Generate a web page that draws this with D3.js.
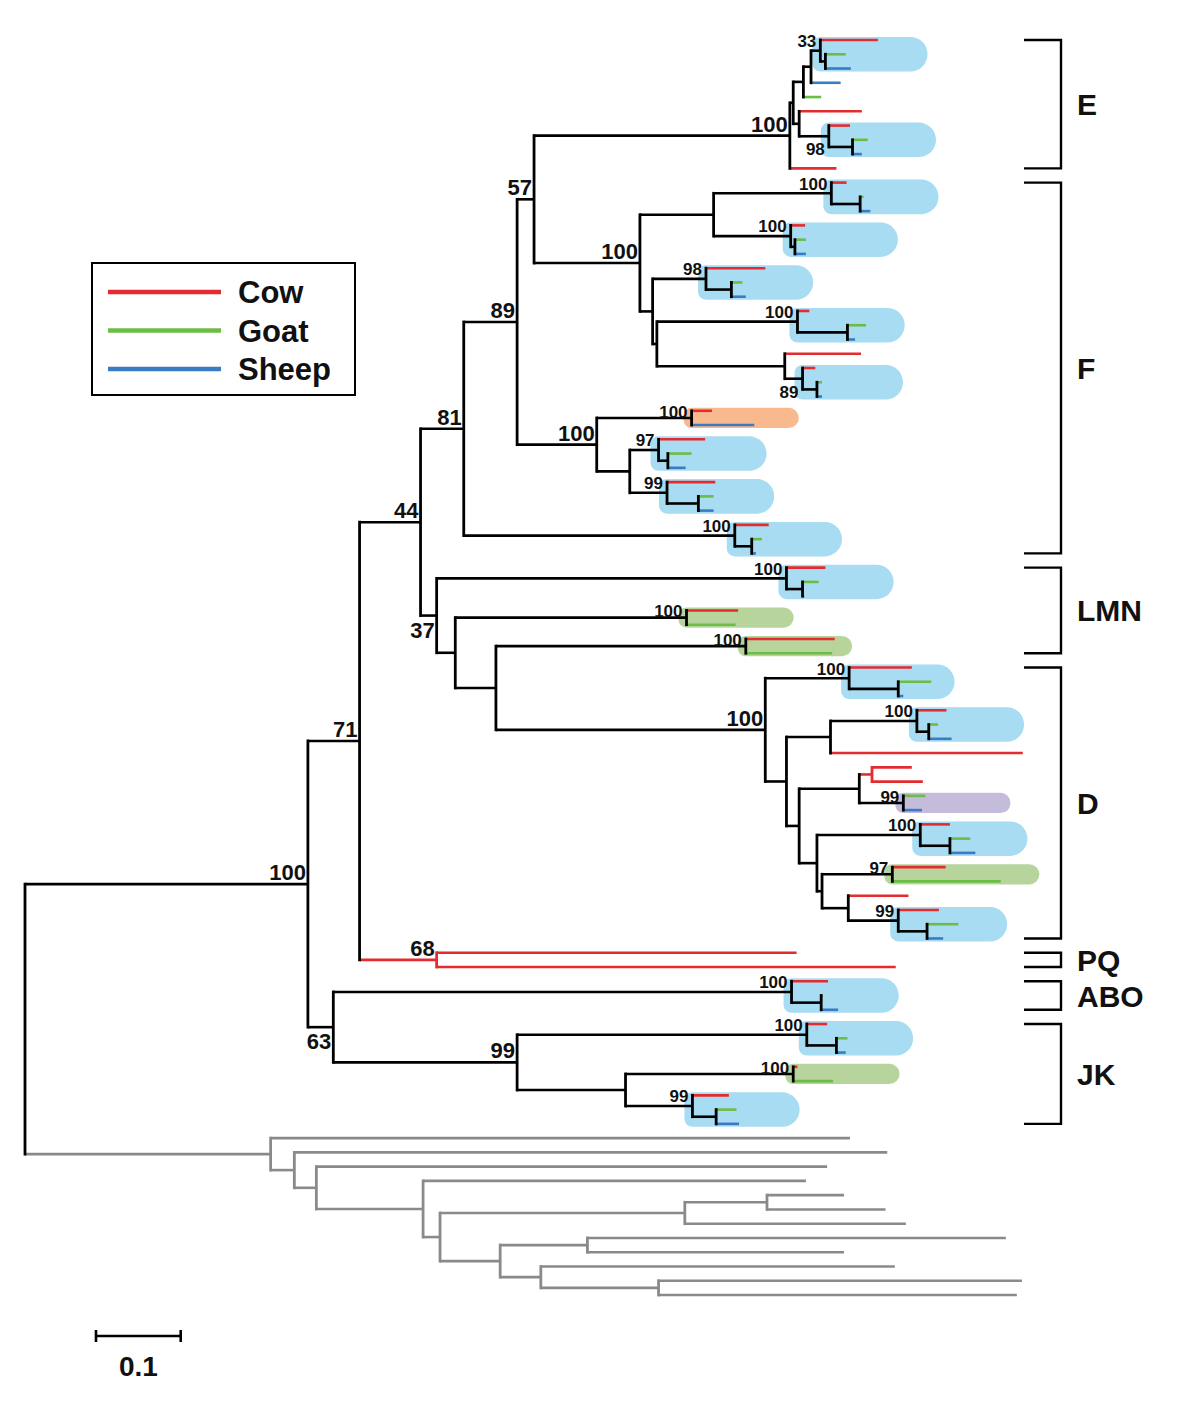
<!DOCTYPE html>
<html><head><meta charset="utf-8">
<script src="https://cdn.jsdelivr.net/npm/d3@7"></script>
<style>body{margin:0;background:#fff}svg{display:block}</style>
</head><body>
<script>
// ---------------- DATA ----------------
// Tree pieces in Newick (branch lengths in substitutions/site; leaf names = species: C cow, G goat, S sheep, O outgroup)
const newickE = "(((((C:0.068,(G:0.024,S:0.030):0.006)E33:0.011,S:0.035):0.009,G:0.021):0.012,(C:0.074,(C:0.025,(G:0.018,S:0.011):0.028)E98:0.035):0.007):0.004,C:0.055)E100:0.302";
const newickF1 = "(C:0.018,(G:0.004,S:0.012):0.034)F1:0.139";
const newickF2 = "(C:0.017,(G:0.013,S:0.013):0.005)F2:0.091";
const newickF3 = "(C:0.070,(G:0.013,S:0.017):0.030)F3:0.063";
const newickF4 = "(C:0.014,(G:0.022,S:0.009):0.059)F4:0.166";
const newickF5 = "(C:0.090,(C:0.015,(G:0.006,S:0.006):0.017)F5:0.021):0.151";
const newickF6 = "(C:0.024,S:0.074)F6:0.112";
const newickF7 = "(C:0.055,(G:0.028,S:0.021):0.011)F7:0.034";
const newickF8 = "(C:0.057,(G:0.018,S:0.018):0.037)F8:0.044";
const newickF10 = "(C:0.040,(G:0.012,S:0.005):0.020)F10:0.320";
const newickL1 = "(C:0.046,(G:0.019,S:0.002):0.019)L1:0.413";
const newickL2 = "(C:0.061,G:0.058)L2:0.273";
const newickL3 = "(C:0.105,G:0.102)L3:0.295";
const newickD1 = "(C:0.074,(G:0.039,S:0.006):0.058)D1:0.099";
const newickD2 = "(C:0.035,(G:0.011,S:0.027):0.014)D2:0.102";
const newickD3 = "((C:0.047,C:0.060):0.015,(G:0.026,S:0.022)D3:0.052):0.071";
const newickD4 = "(C:0.035,(G:0.024,S:0.030):0.035)D4:0.122";
const newickD5 = "(C:0.063,G:0.128)D5:0.083";
const newickD6 = "(C:0.048,(G:0.037,S:0.019):0.034)D6:0.059";
const newickPQ = "(C:0.425,C:0.542)PQ:0.091";
const newickABO = "(C:0.043,(G:0.002,S:0.020):0.035)A1:0.541";
const newickJ1 = "(C:0.024,(G:0.013,S:0.011):0.035)J1:0.342";
const newickJ2 = "(C:0.005,G:0.047)J2:0.198";
const newickJ3 = "(C:0.043,(G:0.024,S:0.027):0.028)J3:0.079";
const newickOut = "(O:0.684,(O:0.700,(O:0.603,(O:0.452,(((O:0.091,O:0.140):0.097,O:0.261):0.289,((O:0.494,O:0.303):0.103,(O:0.418,(O:0.429,O:0.423):0.139):0.048):0.071):0.020):0.126):0.026):0.028):0.290";

// bootstrap support [node, value]
const support = [["ING",100],["N71",71],["N44",44],["N81",81],["N89",89],["N57",57],["E100",100],["E33",33],["E98",98],
  ["F100",100],["F1",100],["F2",100],["F3",98],["F4",100],["F5",89],["F9",100],["F6",100],["F7",97],["F8",99],["F10",100],
  ["N37",37],["L1",100],["L2",100],["L3",100],["D100",100],["D1",100],["D2",100],["D3",99],["D4",100],["D5",97],["D6",99],
  ["PQ",68],["N63",63],["A1",100],["JK",99],["J1",100],["J2",100],["J3",99]];
const supportBelow = ["N37","N63","E98","F5"];
// highlighted clusters [node, colour key, extent in tree units]
const pills = [["E33","blue",0.136],["E98","blue",0.136],["F1","blue",0.136],["F2","blue",0.136],["F3","blue",0.136],
  ["F4","blue",0.136],["F5","blue",0.128],["F6","orange",0.136],["F7","blue",0.137],["F8","blue",0.136],["F10","blue",0.136],
  ["L1","blue",0.136],["L2","green",0.136],["L3","green",0.135],["D1","blue",0.134],["D2","blue",0.136],["D3","purple",0.136],
  ["D4","blue",0.136],["D5","green",0.183],["D6","blue",0.138],["A1","blue",0.136],["J1","blue",0.135],["J2","green",0.135],["J3","blue",0.136]];
// clade groups (leaf index ranges, in leaf order)
const groupNames = ["E","F","LMN","D","PQ","ABO","JK"];
const groupFirst = [0,10,37,44,64,66,69];
const groupLast  = [9,36,43,63,65,68,76];
const legendNames = ["Cow","Goat","Sheep"];
const legendKeys = ["C","G","S"];
const scaleBarValue = 0.1;

// ---------------- ASSEMBLY ----------------
const newickD = `(${newickD1},((${newickD2},C:0.227):0.052,(${newickD3},(${newickD4},(${newickD5},(C:0.071,${newickD6}):0.031):0.006):0.021):0.015):0.025)D100:0.318`;
const newickF = `((${newickF1},${newickF2}):0.087,(${newickF3},(${newickF4},${newickF5}):0.005):0.015)F100:0.125`;
const newickF9 = `(${newickF6},(${newickF7},${newickF8}):0.039)F9:0.094`;
const newickN81 = `(((${newickE},${newickF})N57:0.020,${newickF9})N89:0.063,${newickF10})N81:0.051`;
const newickN37 = `(${newickL1},(${newickL2},(${newickL3},${newickD}):0.048):0.022)N37:0.019`;
const newickN63 = `(${newickABO},(${newickJ1},(${newickJ2},${newickJ3}):0.128)JK:0.217)N63:0.030`;
const newickAll = `((((${newickN81},${newickN37})N44:0.072,${newickPQ})N71:0.061,${newickN63})ING:0.334,${newickOut});`;

function parseNewick(s){
  const anc=[]; let tree={}; const tok=s.split(/\s*(;|\(|\)|,|:)\s*/);
  for(let i=0;i<tok.length;i++){const t=tok[i];
    switch(t){
      case "(": {const c={}; tree.children=[c]; anc.push(tree); tree=c; break;}
      case ",": {const c={}; anc[anc.length-1].children.push(c); tree=c; break;}
      case ")": tree=anc.pop(); break;
      case ":": case ";": case "": break;
      default: {const p=tok[i-1]; if(p===")"||p==="("||p===",") tree.name=t; else if(p===":") tree.length=parseFloat(t);}
    }}
  return tree;
}

const COL = {C:"#e42b2f", G:"#6cbd45", S:"#3a7cc3", O:"#8a8a8a", X:"#000"};
const PILL = {blue:"#a7dcf2", orange:"#f8b98f", green:"#b8d49d", purple:"#c4bcda"};
const FONT = "'Liberation Sans', Arial, Helvetica, sans-serif";

const root = d3.hierarchy(parseNewick(newickAll), d=>d.children);
root.eachBefore(d=>{ d.dist = (d.parent? d.parent.dist:0) + (d.parent ? (d.data.length||0) : 0); });
const leaves = root.leaves();
const nLeaves = leaves.length;

const x = d3.scaleLinear().domain([0,1]).range([25, 872]);
const y = d3.scaleLinear().domain([0, nLeaves-1]).range([40, 1295]);

leaves.forEach((l,i)=>{ l.idx=i; l.py=y(i); });
root.eachAfter(d=>{
  d.px = x(d.dist);
  if(d.children){ d.py=(d.children[0].py + d.children[d.children.length-1].py)/2;
    const sp = new Set(d.leaves().map(l=>l.data.name));
    d.col = sp.size===1 ? [...sp][0] : "X"; }
  else d.col = d.data.name;
});
const byName = {}; root.each(d=>{ if(d.children && d.data.name) byName[d.data.name]=d; });

const svg = d3.select("body").append("svg").attr("width",1200).attr("height",1407)
  .style("font-family",FONT);
svg.append("rect").attr("width",1200).attr("height",1407).attr("fill","#fff");

// pills
function pillPath(x0,y0,x1,y1,rl){const r=(y1-y0)/2;
  return `M${x0+rl},${y0}H${x1-r}A${r},${r} 0 0 1 ${x1-r},${y1}H${x0+rl}A${rl},${rl} 0 0 1 ${x0},${y1-rl}V${y0+rl}A${rl},${rl} 0 0 1 ${x0+rl},${y0}Z`;}
svg.append("g").selectAll("path").data(pills).join("path")
  .attr("d",p=>{const n=byName[p[0]]; const lv=n.leaves();
    const x0=n.px-8, x1=x0 + (x(p[2])-x(0)), y0=lv[0].py-3, y1=lv[lv.length-1].py+3;
    return pillPath(x0,y0,x1,y1,Math.min(8,(y1-y0)/2));})
  .attr("fill",p=>PILL[p[1]]);

// horizontal branches
const nodes = root.descendants().filter(d=>d.parent);
svg.append("g").selectAll("line").data(nodes).join("line")
  .attr("x1",d=>d.parent.px).attr("x2",d=>d.px).attr("y1",d=>d.py).attr("y2",d=>d.py)
  .attr("stroke",d=>COL[d.col]).attr("stroke-width",2.6);
// vertical connectors
const internals = root.descendants().filter(d=>d.children);
svg.append("g").selectAll("line").data(internals).join("line")
  .attr("x1",d=>d.px).attr("x2",d=>d.px)
  .attr("y1",d=>d.children[0].py).attr("y2",d=>d.children[d.children.length-1].py)
  .attr("stroke",d=>COL[d.col]).attr("stroke-width",2.8).attr("stroke-linecap","square");

// support labels
const pillSet = new Set(pills.map(p=>p[0]));
svg.append("g").selectAll("text").data(support).join("text")
  .each(function(s){
    const n=byName[s[0]]; const small=pillSet.has(s[0]); const below=supportBelow.includes(s[0]);
    const lv=n.leaves(); let by;
    if(small) by = below ? lv[lv.length-1].py+1 : lv[0].py+7;
    else by = below ? n.py+22 : n.py-4;
    d3.select(this).attr("x",n.px-(small?4:2)).attr("y",by).attr("text-anchor","end")
      .attr("font-size",small?17:22).attr("font-weight","bold").attr("fill","#111").text(s[1]);
  });

// clade brackets
const bg = svg.append("g");
groupNames.forEach((g,i)=>{
  const y0=y(groupFirst[i]), y1=y(groupLast[i]);
  bg.append("path").attr("d",`M1024,${y0}H1061V${y1}H1024`).attr("fill","none").attr("stroke","#000").attr("stroke-width",2.4);
  bg.append("text").attr("x",1077).attr("y",(y0+y1)/2+11).attr("font-size",30).attr("font-weight","bold").attr("fill","#111").text(g);
});

// legend
const lg = svg.append("g");
lg.append("rect").attr("x",92).attr("y",263).attr("width",263).attr("height",132).attr("fill","#fff").attr("stroke","#000").attr("stroke-width",2);
legendNames.forEach((n,i)=>{
  const ly=292+i*38.5;
  lg.append("line").attr("x1",108).attr("x2",221).attr("y1",ly).attr("y2",ly).attr("stroke",COL[legendKeys[i]]).attr("stroke-width",4.5);
  lg.append("text").attr("x",238).attr("y",ly+11).attr("font-size",31).attr("font-weight","bold").attr("fill","#111").text(n);
});

// scale bar
const sbx0=96, sbx1=sbx0 + (x(scaleBarValue)-x(0)), sby=1336;
const sb = svg.append("g");
sb.append("path").attr("d",`M${sbx0},${sby-6}V${sby+6}M${sbx0},${sby}H${sbx1}M${sbx1},${sby-6}V${sby+6}`).attr("fill","none").attr("stroke","#000").attr("stroke-width",2.6);
sb.append("text").attr("x",(sbx0+sbx1)/2).attr("y",1376).attr("text-anchor","middle").attr("font-size",28).attr("font-weight","bold").attr("fill","#111").text(scaleBarValue);
</script>
</body></html>
